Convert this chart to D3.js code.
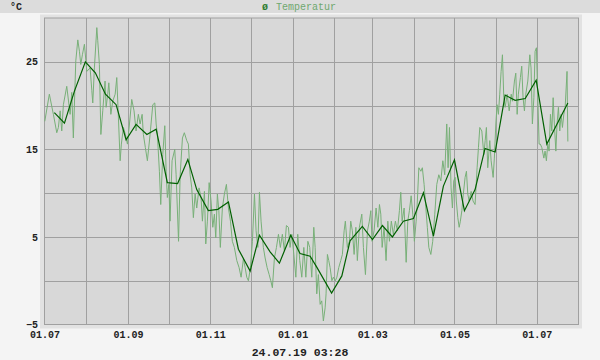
<!DOCTYPE html>
<html><head><meta charset="utf-8">
<script src="https://cdn.jsdelivr.net/npm/d3@7"></script>
<style>
html,body{margin:0;padding:0;background:#f4f4f4;}
svg{display:block;}
text{font-family:"Liberation Mono","DejaVu Sans Mono",monospace;}
</style></head><body>
<svg id="chart" width="600" height="360"></svg>
<script>
// ---- data ----
const unit = "°C";
const seriesName = "Temperatur";
const stampText = "24.07.19 03:28";
const startDate = "2018-07-01";
const endDate = "2019-08-01";
const yTickLabels = [-5, 5, 15, 25];
const yGridValues = [0, 5, 10, 15, 20, 25];
// raw readings: day offset from startDate, temperature
const rawDay = [0.2,3.6,5.4,6.6,9.1,10.3,11.6,12.8,14.0,16.5,19.0,20.2,21.4,23.2,24.7,25.9,26.9,28.1,29.6,31.4,33.8,35.1,35.8,37.0,38.8,39.5,40.7,41.8,43.2,44.9,45.7,46.9,47.7,49.2,50.6,52.4,53.6,54.6,56.1,57.0,58.5,60.0,61.5,63.0,64.7,66.4,67.9,69.6,70.9,72.4,73.3,74.8,76.3,78.3,80.3,81.8,82.8,83.7,85.2,86.2,87.7,89.2,90.2,91.1,92.2,93.1,94.6,96.6,97.6,99.4,100.6,
102.3,103.7,105.5,106.7,108.0,109.2,110.4,111.7,112.9,114.6,116.1,117.1,118.6,119.6,120.8,122.1,123.5,124.8,126.0,127.0,128.2,129.3,130.4,131.9,133.4,134.9,136.4,137.9,139.3,140.8,142.6,144.3,145.8,147.5,148.8,150.0,151.2,152.7,154.2,155.7,156.9,158.2,159.4,160.6,162.3,163.6,165.1,166.6,167.8,169.0,170.5,172.0,173.5,174.9,176.4,177.9,179.4,180.9,182.1,183.4,184.9,186.4,187.8,189.3,190.8,192.3,193.8,195.3,196.7,198.2,199.7,
200.7,201.9,203.1,204.4,205.6,206.8,208.1,208.8,209.8,210.8,211.8,213.1,214.2,215.7,216.8,218.2,219.7,220.9,222.2,223.1,224.6,226.1,227.1,228.3,229.6,230.9,232.0,233.5,235.3,236.5,238.0,239.5,240.9,242.0,242.9,244.4,245.9,247.2,248.4,249.4,250.4,251.8,253.3,254.6,255.8,257.2,258.7,260.2,261.7,263.2,264.2,265.2,266.7,268.2,269.4,270.6,271.9,273.1,274.3,275.6,276.5,277.6,279.1,280.2,281.5,282.8,283.9,285.0,286.5,287.9,289.4,290.9,292.4,293.9,295.4,296.8,298.3,299.3,300.3,
301.5,302.5,303.5,304.5,305.4,306.5,307.5,308.4,309.5,310.6,311.9,312.9,313.9,314.9,316.4,317.8,319.3,320.8,321.8,322.8,324.3,325.8,326.8,327.7,328.7,330.2,331.2,332.7,333.6,334.7,335.6,336.6,337.6,338.6,339.6,340.6,341.6,343.1,344.6,346.1,347.0,348.5,349.5,350.5,351.4,352.9,353.9,354.9,355.9,356.9,358.4,359.9,360.8,361.8,362.9,363.8,364.8,365.8,366.8,367.7,368.8,370.3,371.2,372.2,373.2,374.2,375.2,376.2,377.2,378.1,379.2,380.1,381.1,382.1,383.1,384.1,385.1,386.1,387.5,388.1];
const rawTemp = [18.2,21.3,19.9,19.0,16.9,17.5,19.4,17.1,20.1,22.2,19.0,21.5,16.3,25.1,27.5,26.2,24.7,25.8,27.0,23.9,24.3,21.7,20.3,24.3,28.9,27.4,24.7,16.7,19.4,22.8,19.8,21.3,22.6,19.0,20.5,21.3,23.2,19.4,13.7,15.6,17.5,16.7,15.6,17.9,20.7,19.4,17.1,19.0,17.9,19.0,16.7,15.2,13.7,16.7,20.1,20.3,17.9,16.7,12.5,8.7,14.4,17.7,12.5,9.5,11.0,6.8,13.7,15.0,12.1,4.5,12.1,
16.3,16.9,16.0,15.6,12.1,10.6,7.2,9.9,8.3,10.6,9.5,6.8,10.2,4.2,6.8,11.2,9.1,6.1,7.6,4.9,9.9,8.0,3.8,8.3,9.9,11.0,8.3,6.8,4.5,3.8,2.3,1.5,0.4,2.5,1.5,0.4,0.0,1.5,4.5,9.9,5.7,3.8,10.1,6.8,3.8,2.6,1.5,0.7,0.0,-0.8,2.6,3.8,5.3,3.8,5.3,3.4,6.3,6.1,3.8,5.3,3.0,0.4,5.3,2.3,0.4,3.8,0.4,4.5,3.8,0.4,6.1,
3.8,-1.5,0.7,-2.7,-2.3,-4.6,-3.1,-1.5,3.0,2.3,1.5,0.0,0.4,0.0,0.4,1.5,2.3,3.0,5.7,6.8,3.8,4.5,6.8,5.7,3.0,6.1,2.3,6.1,7.6,3.8,0.7,5.7,6.8,8.0,4.5,5.7,8.3,6.1,8.7,7.6,3.8,6.1,2.3,6.8,4.5,6.8,5.3,6.8,5.7,8.0,10.1,6.8,8.3,2.1,6.8,8.0,9.7,7.6,4.5,6.8,9.1,12.9,12.5,12.9,11.0,8.3,6.1,3.8,3.0,4.5,7.6,11.0,12.1,11.4,13.7,12.1,17.9,12.9,17.5,
10.6,8.3,11.4,11.8,9.1,7.2,6.1,6.8,8.0,9.9,11.8,12.5,9.9,9.1,10.2,9.1,8.7,12.9,15.2,17.5,17.1,14.4,16.0,17.5,12.9,16.0,13.7,11.8,14.0,17.9,20.1,19.0,21.3,23.9,25.8,20.9,19.8,21.3,19.4,21.3,20.5,22.8,23.7,19.0,21.3,23.2,24.5,20.9,19.4,21.3,22.8,25.8,24.3,17.9,20.9,26.2,26.6,20.9,15.6,15.6,15.2,14.0,14.8,13.7,15.6,14.8,19.0,17.1,20.9,17.9,14.8,17.9,19.8,17.1,19.0,17.5,19.0,19.8,23.9,15.9];
// averaged series
const avgDay = [7.3,14.8,22.2,30.3,37.7,45.2,53.1,60.5,67.9,75.9,82.8,91.1,98.7,106.3,112.9,121.5,128.5,136.4,143.8,152.5,159.4,167.3,174.2,182.6,189.5,197.0,201.9,212.9,220.5,226.6,235.7,243.2,250.6,258.0,266.1,273.6,281.0,288.4,295.8,304.0,311.4,319.3,326.7,334.2,341.6,349.0,356.5,364.6,372.5,379.9,388.1];
const avgTemp = [19.2,18.0,21.65,25.0,23.75,21.3,20.1,16.1,17.85,16.7,17.3,11.2,11.1,13.85,10.4,8.0,8.15,9.0,3.6,1.1,5.2,3.3,2.0,5.2,3.1,2.8,1.55,-1.4,0.55,4.55,6.2,4.7,6.3,5.0,6.8,7.1,10.05,5.1,10.8,13.8,8.0,10.4,15.1,14.7,21.2,20.6,20.8,22.9,15.6,17.85,20.3];

// ---- drawing ----
const svg = d3.select("#chart");
const W = 600, H = 360;
const plot = {l: 44.5, r: 578.5, t: 18, b: 324.5};
const t0 = new Date(startDate + "T00:00:00Z"), t1 = new Date(endDate + "T00:00:00Z");
const x = d3.scaleUtc().domain([t0, t1]).range([plot.l, plot.r]);
const y = d3.scaleLinear().domain([-5, 30]).range([plot.b, plot.t]);
const toDate = d => new Date(t0.getTime() + d * 86400000);

svg.append("rect").attr("x",0).attr("y",0).attr("width",W).attr("height",H).attr("fill","#f4f4f4");
svg.append("rect").attr("x",0).attr("y",0).attr("width",W).attr("height",13).attr("fill","#dcdcdc");
svg.append("rect").attr("x",40).attr("y",14.5).attr("width",542).attr("height",314).attr("fill","#e2e2e2");
svg.append("rect").attr("x",plot.l).attr("y",plot.t).attr("width",plot.r-plot.l).attr("height",plot.b-plot.t)
  .attr("fill","#d8d8d8").attr("stroke","#a0a0a0").attr("stroke-width",1);

// grid
const months = x.ticks(d3.utcMonth.every(1)).filter(d => d > t0 && d < t1);
svg.append("g").selectAll("line").data(months).join("line")
  .attr("x1", d => Math.round(x(d)) + 0.5).attr("x2", d => Math.round(x(d)) + 0.5)
  .attr("y1", plot.t).attr("y2", plot.b).attr("stroke","#a0a0a0").attr("stroke-width",1);
svg.append("g").selectAll("line").data(yGridValues).join("line")
  .attr("x1", plot.l).attr("x2", plot.r)
  .attr("y1", d => Math.round(y(d)) + 0.5).attr("y2", d => Math.round(y(d)) + 0.5)
  .attr("stroke","#a0a0a0").attr("stroke-width",1);

// axes labels
const yAxis = d3.axisLeft(y).tickValues(yTickLabels).tickSize(0).tickPadding(0).tickFormat(d => d < 0 ? "\u2212" + Math.abs(d) : d);
const gy = svg.append("g").attr("transform","translate(38,0)").call(yAxis);
gy.select(".domain").remove();
gy.selectAll("text").attr("font-family","Liberation Mono, monospace").attr("font-size",10).attr("font-weight","bold").attr("fill","#222");

const labelMonths = d3.utcMonth.every(2).range(t0, t1);
const xAxis = d3.axisBottom(x).tickValues(labelMonths).tickSize(0).tickPadding(0).tickFormat(d3.utcFormat("%d.%m"));
const gx = svg.append("g").attr("transform","translate(0,331)").call(xAxis);
gx.select(".domain").remove();
gx.selectAll("text").attr("font-family","Liberation Mono, monospace").attr("font-size",10).attr("font-weight","bold").attr("fill","#222");

// series
const line = d3.line().x(d => x(toDate(d[0]))).y(d => y(d[1]));
svg.append("path").datum(rawDay.map((d,i) => [d, rawTemp[i]]))
  .attr("d", line).attr("fill","none").attr("stroke","#78b078").attr("stroke-width",1);
svg.append("path").datum(avgDay.map((d,i) => [d, avgTemp[i]]))
  .attr("d", line).attr("fill","none").attr("stroke","#006000").attr("stroke-width",1.2);

// titles
svg.append("text").attr("x",10).attr("y",10).attr("font-size",10).attr("font-weight","bold").attr("fill","#222").text(unit);
svg.append("text").attr("x",262).attr("y",10).attr("font-size",10).attr("font-weight","bold").attr("fill","#2e7d2e").text("ø");
svg.append("text").attr("x",276).attr("y",10).attr("font-size",10).attr("fill","#6fa86f").text(seriesName);
svg.append("text").attr("x",300).attr("y",356).attr("text-anchor","middle").attr("font-size",11.5).attr("font-weight","bold").attr("fill","#222").text(stampText);
</script>
</body></html>
